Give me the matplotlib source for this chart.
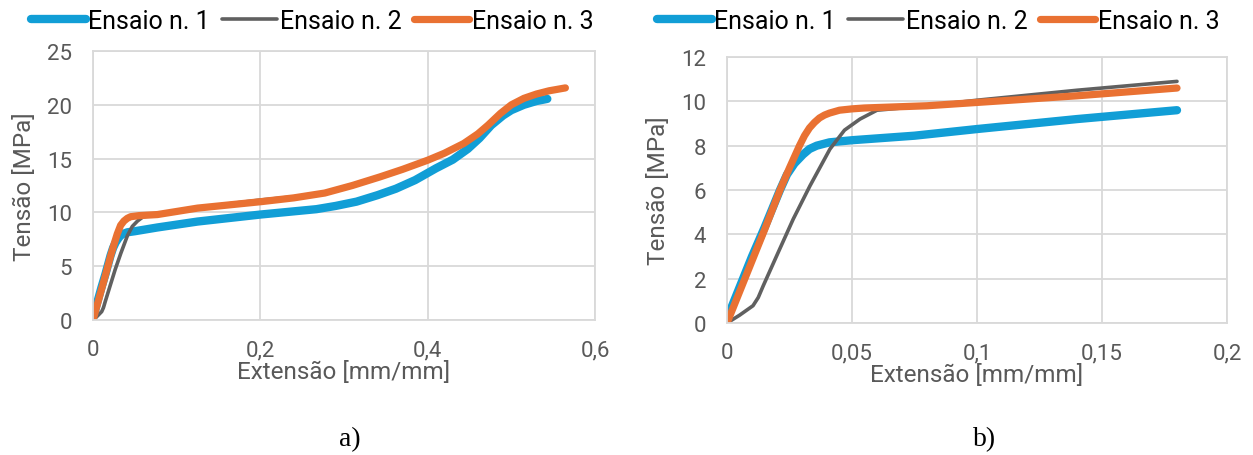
import matplotlib
matplotlib.use("Agg")
import matplotlib.pyplot as plt

# ---- data panel a) ----
a_x1 = [0, 0.005, 0.01, 0.015, 0.021, 0.024, 0.027, 0.0304, 0.033, 0.036, 0.041, 0.05, 0.077, 0.125, 0.2, 0.267, 0.29, 0.315, 0.34, 0.362, 0.385, 0.41, 0.43, 0.448, 0.462, 0.476, 0.49, 0.50, 0.515, 0.53, 0.543]
a_y1 = [0.2, 1.6, 3.0, 4.3, 6.0, 6.7, 7.2, 7.6, 7.85, 8.0, 8.15, 8.25, 8.6, 9.15, 9.8, 10.3, 10.6, 11.0, 11.6, 12.2, 13.0, 14.1, 14.9, 15.9, 16.9, 18.1, 19.0, 19.5, 20.0, 20.35, 20.55]
a_x2 = [0, 0.005, 0.0104, 0.0125, 0.0145, 0.0205, 0.0265, 0.0332, 0.0412, 0.047, 0.0532, 0.06, 0.08, 0.125, 0.2, 0.24, 0.275]
a_y2 = [0, 0.35, 0.78, 1.15, 1.68, 3.19, 4.69, 6.19, 7.85, 8.7, 9.2, 9.6, 9.8, 10.45, 11.15, 11.45, 11.7]
a_x3 = [0, 0.005, 0.01, 0.015, 0.0212, 0.025, 0.029, 0.033, 0.037, 0.041, 0.045, 0.055, 0.077, 0.125, 0.201, 0.24, 0.277, 0.31, 0.343, 0.37, 0.40, 0.42, 0.443, 0.46, 0.472, 0.487, 0.50, 0.515, 0.53, 0.545, 0.5646]
a_y3 = [0, 1.4, 2.8, 4.2, 6.0, 7.0, 8.0, 8.8, 9.2, 9.45, 9.6, 9.7, 9.8, 10.4, 11.0, 11.35, 11.8, 12.5, 13.3, 14.0, 14.85, 15.5, 16.4, 17.3, 18.1, 19.2, 20.0, 20.6, 21.0, 21.3, 21.57]

# ---- data panel b) ----
b_x1 = [0, 0.005, 0.01, 0.015, 0.0212, 0.024, 0.027, 0.0304, 0.033, 0.0359, 0.041, 0.0505, 0.075, 0.1, 0.14, 0.18]
b_y1 = [0.2, 1.6, 3.0, 4.3, 6.0, 6.7, 7.2, 7.6, 7.85, 8.0, 8.15, 8.25, 8.45, 8.75, 9.2, 9.6]
b_x2 = [0, 0.005, 0.0104, 0.0125, 0.0145, 0.0205, 0.0265, 0.0332, 0.0412, 0.047, 0.0532, 0.06, 0.07, 0.08, 0.1, 0.14, 0.18]
b_y2 = [0, 0.35, 0.78, 1.15, 1.68, 3.19, 4.69, 6.19, 7.85, 8.7, 9.2, 9.6, 9.7, 9.8, 10.05, 10.5, 10.9]
b_x3 = [0, 0.005, 0.01, 0.015, 0.0212, 0.025, 0.027, 0.029, 0.031, 0.033, 0.035, 0.037, 0.039, 0.041, 0.045, 0.05, 0.055, 0.08, 0.1, 0.14, 0.18]
b_y3 = [0, 1.4, 2.8, 4.2, 6.0, 7.0, 7.5, 8.0, 8.45, 8.8, 9.05, 9.25, 9.38, 9.47, 9.6, 9.66, 9.7, 9.8, 9.95, 10.25, 10.6]

labels = ["Ensaio n. 1", "Ensaio n. 2", "Ensaio n. 3"]
colors = ["#119ED6", "#606060", "#E97132"]
widths = [6.0, 2.6, 5.2]

plt.rcParams['font.family'] = ['Roboto', 'DejaVu Sans']

fig = plt.figure(figsize=(12.53, 4.56), dpi=100)
axA = fig.add_axes([93/1253, 1-321/456, 502/1253, 269/456])
axB = fig.add_axes([727/1253, 1-324/456, 500/1253, 266/456])

grey_txt = "#595959"
grid_c = "#D9D9D9"

def style(ax, xlim, ylim, xticks, xticklabels, yticks):
    ax.set_xlim(*xlim)
    ax.set_ylim(*ylim)
    ax.set_xticks(xticks)
    ax.set_xticklabels(xticklabels)
    ax.set_yticks(yticks)
    ax.grid(True, color=grid_c, linewidth=1.3)
    ax.set_axisbelow(True)
    for s in ax.spines.values():
        s.set_color(grid_c)
        s.set_linewidth(1.3)
    ax.tick_params(length=0, colors=grey_txt, labelsize=16)
    ax.tick_params(axis='x', pad=14)
    ax.tick_params(axis='y', pad=15)
    ax.set_xlabel("Extensão [mm/mm]", color=grey_txt, fontsize=17.5, labelpad=0)
    ax.set_ylabel("Tensão [MPa]", color=grey_txt, fontsize=17.5, labelpad=8)

series_a = [(a_x1, a_y1), (a_x2, a_y2), (a_x3, a_y3)]
series_b = [(b_x1, b_y1), (b_x2, b_y2), (b_x3, b_y3)]

for ax, series in ((axA, series_a), (axB, series_b)):
    for (x, y), lab, c, w in zip(series, labels, colors, widths):
        ax.plot(x, y, color=c, lw=w, label=lab, solid_capstyle='round', solid_joinstyle='round')

style(axA, (0, 0.6), (0, 25), [0, 0.2, 0.4, 0.6], ["0", "0,2", "0,4", "0,6"], [0, 5, 10, 15, 20, 25])
style(axB, (0, 0.2), (0, 12), [0, 0.05, 0.1, 0.15, 0.2], ["0", "0,05", "0,1", "0,15", "0,2"], [0, 2, 4, 6, 8, 10, 12])

for ax, cx in ((axA, 312), (axB, 938)):
    ax.legend(loc='upper center', bbox_to_anchor=(cx/1253, 1-0/456), bbox_transform=fig.transFigure,
              ncol=3, frameon=False, fontsize=18, handlelength=2.2, handletextpad=0.1,
              columnspacing=0.5, borderaxespad=0, labelcolor='black')

fig.text(350/1253, 1-440/456, "a)", family="Liberation Serif", fontsize=20, ha='center', va='center')
fig.text(985/1253, 1-440/456, "b)", family="Liberation Serif", fontsize=20, ha='center', va='center')

fig.savefig("out.png", dpi=100)
